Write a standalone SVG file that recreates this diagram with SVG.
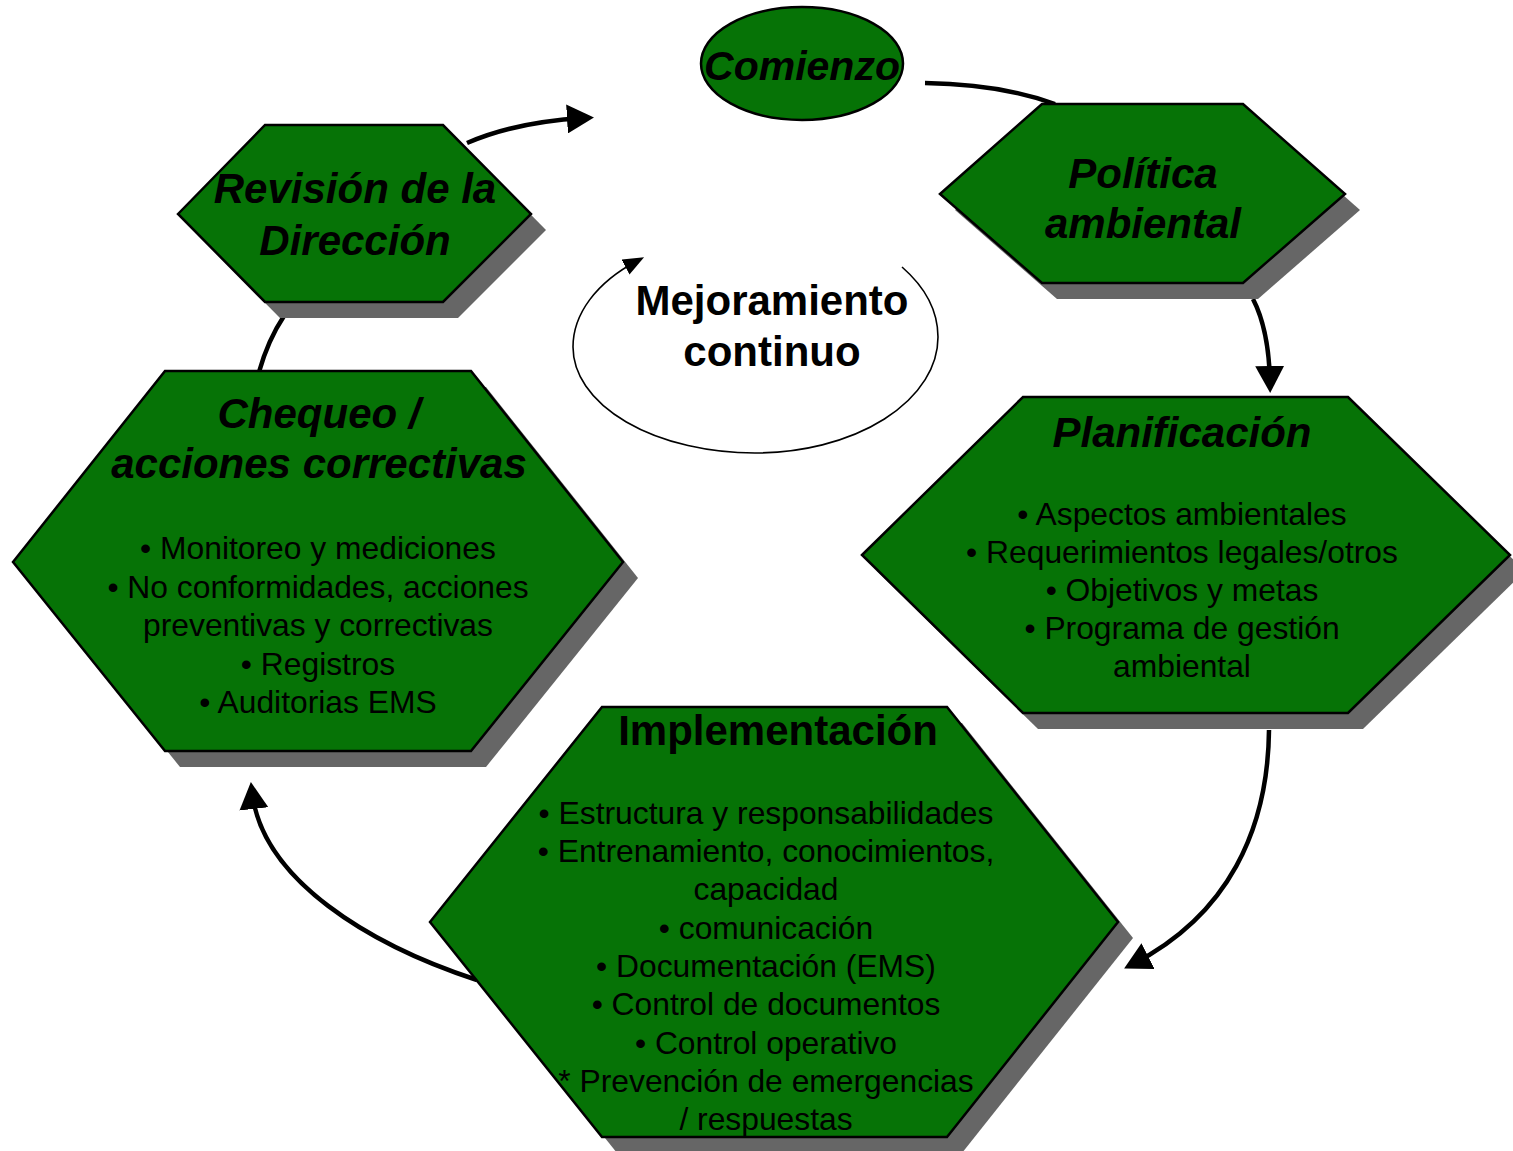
<svg xmlns="http://www.w3.org/2000/svg" width="1513" height="1151" viewBox="0 0 1513 1151">
<style>
.hex{fill:#067306;stroke:#000;stroke-width:2.5;stroke-linejoin:miter}
.sh{fill:#666666}
.conn{fill:none;stroke:#000;stroke-width:4.5}
.thin{fill:none;stroke:#000;stroke-width:1.6}
.ti{font-family:"Liberation Sans",Arial,sans-serif;font-size:42px;font-weight:bold;font-style:italic;text-anchor:middle;fill:#000}
.tb{font-family:"Liberation Sans",Arial,sans-serif;font-size:42px;font-weight:bold;text-anchor:middle;fill:#000}
.bd{font-family:"Liberation Sans",Arial,sans-serif;font-size:31.8px;text-anchor:middle;fill:#000}
</style>
<defs>
<marker id="ah" markerUnits="userSpaceOnUse" viewBox="0 0 27 29" refX="17" refY="14.5" markerWidth="27" markerHeight="29" orient="auto">
<path d="M0,0 L27,14.5 L0,29 Z" fill="#000"/>
</marker>
<marker id="ahs" markerUnits="userSpaceOnUse" viewBox="0 0 21 17" refX="13" refY="8.5" markerWidth="21" markerHeight="17" orient="auto">
<path d="M0,0 L21,8.5 L0,17 Z" fill="#000"/>
</marker>
</defs>
<rect width="1513" height="1151" fill="#fff"/>
<g id="connectors">
<path class="conn" d="M 925 83 Q 1000 84 1055 104"/>
<path class="conn" d="M 1253 299 Q 1269 330 1270 383" marker-end="url(#ah)"/>
<path class="conn" d="M 1269 730 C 1268 830 1228 915 1133 964" marker-end="url(#ah)"/>
<path class="conn" d="M 477 980 C 370 945 262 880 252 792" marker-end="url(#ah)"/>
<path class="conn" d="M 284 316 Q 268 340 259 372"/>
<path class="conn" d="M 467 143 Q 515 122 584 118" marker-end="url(#ah)"/>
<path class="thin" d="M 902 267 A 183 118 0 0 1 938 337 A 183 116 0 0 1 755 453 A 182 106 0 0 1 573 347 A 182 113 0 0 1 637 261" marker-end="url(#ahs)"/>
</g>
<g id="comienzo">
<ellipse cx="802" cy="63.5" rx="101" ry="56.5" fill="#067306" stroke="#000" stroke-width="2.5"/>
<text class="ti" x="802" y="80" style="font-size:41px">Comienzo</text>
</g>
<g id="revision">
<polygon class="sh" points="193,230 280,141 458,141 546,230 458,318 280,318"/>
<polygon class="hex" points="178,214 265,125 443,125 531,214 443,302 265,302"/>
<text class="ti" x="355" y="203">Revisión de la</text>
<text class="ti" x="355" y="255">Dirección</text>
</g>
<g id="politica">
<polygon class="sh" points="955,210 1057,120 1258,120 1360,210 1258,299 1057,299"/>
<polygon class="hex" points="940,194 1042,104 1243,104 1345,194 1243,283 1042,283"/>
<text class="ti" x="1143" y="188">Política</text>
<text class="ti" x="1143" y="238">ambiental</text>
</g>
<g id="planificacion">
<polygon class="sh" points="877,571 1038,413 1363,413 1525,571 1363,729 1038,729"/>
<polygon class="hex" points="862,555 1023,397 1348,397 1510,555 1348,713 1023,713"/>
<text class="ti" x="1182" y="447">Planificación</text>
<text class="bd" x="1182" y="525">• Aspectos ambientales</text>
<text class="bd" x="1182" y="563">• Requerimientos legales/otros</text>
<text class="bd" x="1182" y="601">• Objetivos y metas</text>
<text class="bd" x="1182" y="639">• Programa de gestión</text>
<text class="bd" x="1182" y="677">ambiental</text>
</g>
<g id="implementacion">
<polygon class="sh" points="445,938 617,723 962,723 1133,938 962,1153 617,1153"/>
<polygon class="hex" points="430,922 602,707 947,707 1118,922 947,1137 602,1137"/>
<text class="tb" x="778" y="745">Implementación</text>
<text class="bd" x="766" y="824">• Estructura y responsabilidades</text>
<text class="bd" x="766" y="862">• Entrenamiento, conocimientos,</text>
<text class="bd" x="766" y="900">capacidad</text>
<text class="bd" x="766" y="939">• comunicación</text>
<text class="bd" x="766" y="977">• Documentación (EMS)</text>
<text class="bd" x="766" y="1015">• Control de documentos</text>
<text class="bd" x="766" y="1054">• Control operativo</text>
<text class="bd" x="766" y="1092">* Prevención de emergencias</text>
<text class="bd" x="766" y="1130">/ respuestas</text>
</g>
<g id="chequeo">
<polygon class="sh" points="28,578 180,387 486,387 638,578 486,767 180,767"/>
<polygon class="hex" points="13,562 165,371 471,371 623,562 471,751 165,751"/>
<text class="ti" x="319" y="428">Chequeo /</text>
<text class="ti" x="319" y="478">acciones correctivas</text>
<text class="bd" x="318" y="559">• Monitoreo y mediciones</text>
<text class="bd" x="318" y="598">• No conformidades, acciones</text>
<text class="bd" x="318" y="636">preventivas y correctivas</text>
<text class="bd" x="318" y="675">• Registros</text>
<text class="bd" x="318" y="713">• Auditorias EMS</text>
</g>
<g id="mejoramiento">
<text class="tb" x="772" y="315">Mejoramiento</text>
<text class="tb" x="772" y="366">continuo</text>
</g>
</svg>
